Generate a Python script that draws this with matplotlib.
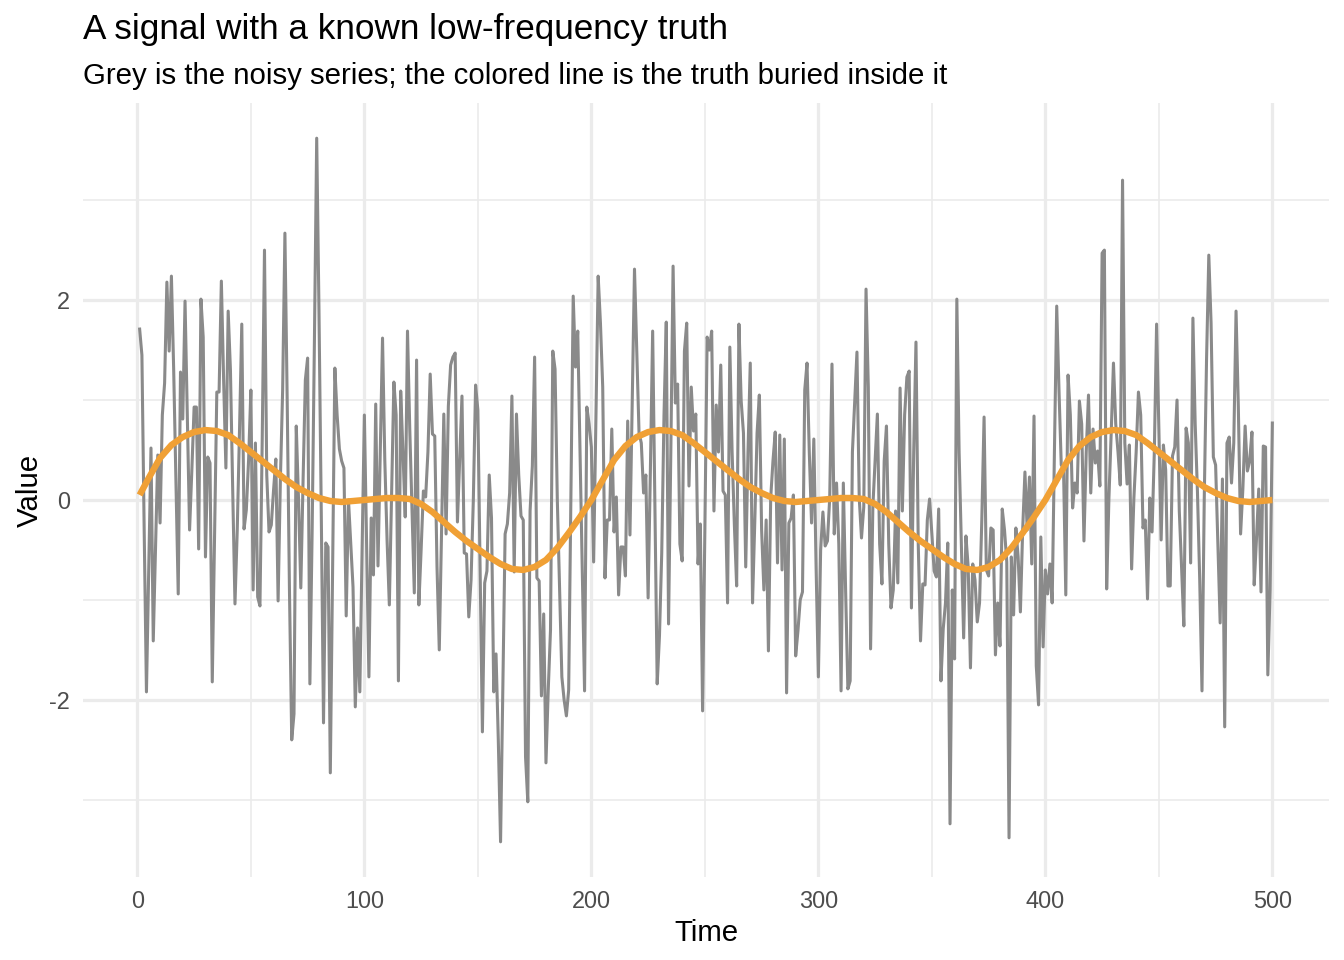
import numpy as np
import matplotlib
matplotlib.use("Agg")
import matplotlib.pyplot as plt

plt.rcParams['font.family'] = ['Liberation Sans', 'DejaVu Sans']
plt.rcParams['axes.unicode_minus'] = False

# noisy series, one value per time step (t = 1..500)
noisy = [
    1.71, 1.45, -0.3, -1.92, -0.7, 0.52, -1.41, -0.5, 0.45, -0.23,
    0.85, 1.17, 2.18, 1.49, 2.24, 1.3, 0.2, -0.94, 1.28, 0.81,
    1.99, 0.85, -0.3, 0.3, 0.93, 0.93, -0.49, 2.01, 1.63, -0.57,
    0.43, 0.37, -1.82, -0.4, 1.08, 1.08, 2.19, 1.2, 0.32, 1.89,
    1.3, 0.1, -1.04, -0.3, 0.7, 1.76, -0.29, -0.1, 0.4, 1.1,
    -0.9, 0.57, -0.97, -1.06, 0.6, 2.5, 0.25, -0.32, -0.25, 0.1,
    0.41, -1.01, 0.2, 1.1, 2.67, 1.0, -0.9, -2.4, -2.14, 0.74,
    0.0, -0.88, 0.2, 1.2, 1.42, -1.84, -0.3, 1.6, 3.62, 1.9,
    -0.1, -2.23, -0.43, -0.47, -2.73, -0.7, 1.32, 0.85, 0.51, 0.39,
    0.32, -1.16, 0.0, -0.44, -0.87, -2.07, -1.28, -1.92, -0.5, 0.85,
    -0.45, -1.77, -0.18, -0.75, 0.96, -0.66, 0.5, 1.62, 0.4, -0.4,
    -1.05, 0.05, 1.18, 0.85, -1.81, 1.09, 0.48, -0.17, 1.69, 0.71,
    -0.1, -0.93, 1.4, -1.05, -0.5, 0.09, 0.03, 0.48, 1.26, 0.66,
    0.64, -0.67, -1.5, -0.3, 0.86, -0.34, 0.94, 1.35, 1.43, 1.47,
    -0.22, 0.4, 1.04, -0.53, -0.54, -1.17, -0.8, 0.0, 1.15, 0.9,
    -0.7, -2.32, -0.83, -0.71, 0.25, -0.18, -1.92, -1.54, -2.4, -3.42,
    -1.9, -0.34, -0.24, 0.07, 1.04, -0.72, 0.86, 0.25, -0.16, -0.2,
    -2.57, -3.02, -0.11, 0.34, 1.43, -0.78, -0.81, -1.96, -1.14, -2.63,
    -1.9, -1.3, 1.49, 1.31, 0.0, -0.9, -1.77, -2.0, -2.16, -1.9,
    0.1, 2.04, 1.33, 1.69, 0.5, -0.7, -1.91, 0.93, 0.76, 0.53,
    -0.62, 0.8, 2.24, 1.77, 1.13, -0.78, -0.2, -0.2, 0.71, -0.32,
    0.03, -0.95, -0.47, -0.47, -0.76, 0.79, -0.35, 1.0, 2.31, 1.49,
    0.67, 0.57, 0.07, 0.25, -0.98, 0.3, 1.69, -0.07, -1.84, -1.36,
    -0.53, 0.85, 1.78, -1.24, 0.48, 2.34, 0.97, 1.16, -0.44, -0.61,
    1.49, 1.77, 0.14, 1.13, 0.69, 0.86, -0.64, -0.24, -2.11, -0.3,
    1.63, 1.5, 1.69, -0.11, 0.95, 0.48, 1.35, 0.09, 0.05, -1.03,
    1.53, 0.48, -0.25, -0.86, 1.76, 0.99, 0.67, -0.67, 0.48, 1.37,
    -1.03, -0.21, 0.67, 1.05, -0.3, -0.9, -0.2, -1.51, 0.02, 0.39,
    0.68, -0.63, 0.65, -0.7, 0.61, -1.93, -0.23, -0.18, 0.05, -1.56,
    -1.31, -1.0, -0.92, 1.1, 1.37, 0.48, -0.23, 0.61, -0.67, -1.77,
    -0.5, -0.12, -0.46, -0.41, 0.02, 1.36, -0.34, 0.17, -0.44, -1.91,
    0.17, -0.9, -1.89, -1.81, 0.48, 0.99, 1.48, 0.02, -0.38, -0.07,
    2.11, 1.13, -1.49, -0.07, 0.39, 0.86, -0.44, -0.84, 0.39, 0.74,
    -0.44, -1.08, -0.9, -0.11, -0.83, 1.12, -0.11, 0.85, 1.23, 1.29,
    -1.08, 0.48, 1.58, -0.44, -1.41, -0.84, -0.85, -0.2, 0.01, -0.34,
    -0.71, -0.77, -0.09, -1.81, -1.29, -1.03, -0.43, -3.24, -0.9, -1.59,
    2.01, 0.48, -0.44, -1.38, -0.36, -0.67, -1.68, -0.64, -0.8, -1.22,
    -1.03, -0.2, 0.83, -0.7, -0.76, -0.28, -0.3, -1.55, -1.03, -1.46,
    -0.09, -0.3, -0.62, -3.38, -0.57, -1.15, -0.28, -0.57, -1.12, -0.3,
    0.28, -0.3, 0.23, -0.64, 0.84, -1.66, -2.05, -0.37, -1.47, -0.7,
    -0.94, -0.64, -1.03, 0.5, 1.94, 1.1, 0.35, 0.32, -0.95, 1.25,
    0.85, -0.08, 0.17, 0.07, 0.99, 0.76, -0.41, 0.48, 1.05, 0.07,
    0.71, 0.37, 0.49, 0.14, 2.47, 2.5, -0.89, 0.02, 0.67, 1.37,
    0.76, 0.48, 0.15, 3.2, 0.57, 0.16, 0.55, -0.69, 0.02, 0.48,
    1.08, 0.85, -0.28, -0.2, -0.99, 0.02, -0.32, 0.48, 1.76, 0.71,
    -0.4, 0.55, 0.3, -0.86, -0.86, 0.44, 0.53, 1.0, -0.11, -0.67,
    -1.26, 0.72, 0.57, -0.63, 1.82, 0.76, 0.08, -0.8, -1.91, 0.02,
    1.4, 2.45, 1.77, 0.43, 0.35, -0.44, -1.23, 0.21, -2.27, 0.57,
    0.63, 0.17, 0.57, 1.89, 0.94, -0.34, 0.11, 0.74, 0.29, 0.39,
    0.68, -0.85, -0.39, 0.11, -0.92, 0.54, 0.53, -1.75, -0.9, 0.77,
]
time = np.arange(1, len(noisy) + 1)

# the smooth truth line, read every 5 steps
truth_t = [1] + list(range(5, 501, 5))
truth = [
    0.05, 0.22, 0.42, 0.55, 0.63, 0.68, 0.70, 0.69, 0.65, 0.57, 0.48,
    0.39, 0.30, 0.21, 0.13, 0.07, 0.02, -0.01, -0.02, -0.01, 0.0,
    0.01, 0.02, 0.02, 0.01, -0.04, -0.12, -0.22, -0.32, -0.41, -0.49,
    -0.57, -0.64, -0.69, -0.70, -0.67, -0.60, -0.48, -0.33, -0.17, 0.0,
    0.20, 0.40, 0.54, 0.63, 0.68, 0.70, 0.69, 0.65, 0.57, 0.48,
    0.39, 0.30, 0.21, 0.13, 0.07, 0.02, -0.01, -0.02, -0.01, 0.0,
    0.01, 0.02, 0.02, 0.01, -0.04, -0.12, -0.22, -0.32, -0.41, -0.49,
    -0.57, -0.64, -0.69, -0.70, -0.67, -0.60, -0.48, -0.33, -0.17, 0.0,
    0.20, 0.40, 0.54, 0.63, 0.68, 0.70, 0.69, 0.65, 0.57, 0.48,
    0.39, 0.30, 0.21, 0.13, 0.07, 0.02, -0.01, -0.02, -0.01, 0.0,
]

x_ticks = [0, 100, 200, 300, 400, 500]
y_ticks = [-2, 0, 2]

fig = plt.figure(figsize=(7, 5), dpi=192)
ax = fig.add_axes([83 / 1344, 83 / 960, 1246 / 1344, 774 / 960])

grid_col = '#EBEBEB'
for v in [50, 150, 250, 350, 450]:
    ax.axvline(v, color=grid_col, lw=0.6, zorder=0)
for v in [-3, -1, 1, 3]:
    ax.axhline(v, color=grid_col, lw=0.6, zorder=0)
for v in x_ticks:
    ax.axvline(v, color=grid_col, lw=1.2, zorder=0)
for v in y_ticks:
    ax.axhline(v, color=grid_col, lw=1.2, zorder=0)

ax.plot(time, noisy, color='#8A8A8A', lw=1.15, zorder=2)
ax.plot(truth_t, truth, color='#F0A035', lw=2.4, zorder=3,
        solid_capstyle='butt', solid_joinstyle='round')

span = time.max() - time.min()
ax.set_xlim(time.min() - 0.05 * span, time.max() + 0.05 * span)
lo, hi = min(noisy), max(noisy)
ax.set_ylim(lo - 0.05 * (hi - lo), hi + 0.05 * (hi - lo))

ax.set_xticks(x_ticks)
ax.set_yticks(y_ticks)
ax.set_xticklabels([str(v) for v in x_ticks])
ax.set_yticklabels([str(v) for v in y_ticks])
ax.tick_params(length=0, labelsize=8.8, labelcolor='#4D4D4D', pad=5)
for s in ax.spines.values():
    s.set_visible(False)

ax.set_xlabel('Time', fontsize=11, labelpad=2)
ax.set_ylabel('Value', fontsize=11, labelpad=2)

fig.text(83 / 1344, 1 - 13 / 960, 'A signal with a known low-frequency truth',
         fontsize=13.2, ha='left', va='top')
fig.text(83 / 1344, 1 - 62 / 960,
         'Grey is the noisy series; the colored line is the truth buried inside it',
         fontsize=11, ha='left', va='top')

fig.savefig('out.png', dpi=192, facecolor='white')
